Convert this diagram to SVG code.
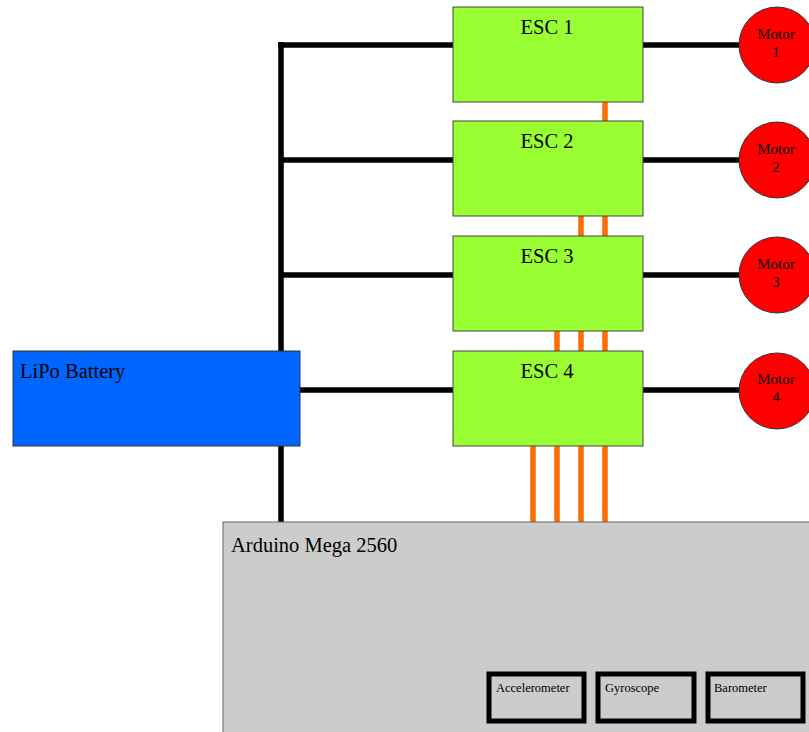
<svg xmlns="http://www.w3.org/2000/svg" width="809" height="732" viewBox="0 0 809 732">
<style>
.pw{stroke:#000;stroke-width:5.5;fill:none}
.sig{stroke:#ff6a00;stroke-width:5.5;fill:none}
.esc{fill:#99ff33;stroke:#444;stroke-width:1}
.motor{fill:#ff0000;stroke:#333;stroke-width:1}
.t{font-family:"Liberation Serif",serif;fill:#000}
.big{font-size:20.5px}
.mt{font-size:15px;text-anchor:middle}
.sens{fill:none;stroke:#000;stroke-width:5}
.st{font-size:12.5px}
</style>
<rect width="809" height="732" fill="#fff"/>
<g id="connectors">
<path class="pw" d="M281 42V522M278 45H453M281 160H453M281 275H453M281 390H453M300 390H453"/>
<path class="pw" d="M643 45H740M643 160H740M643 275H740M643 390H740"/>
<path class="sig" d="M605 102V522M581 216V522M557 331V522M533 446V522"/>
</g>
<g id="esc1"><rect class="esc" x="453" y="7" width="190" height="95"/><text class="t big" x="547" y="34" text-anchor="middle">ESC 1</text></g>
<g id="esc2"><rect class="esc" x="453" y="121" width="190" height="95"/><text class="t big" x="547" y="148" text-anchor="middle">ESC 2</text></g>
<g id="esc3"><rect class="esc" x="453" y="236" width="190" height="95"/><text class="t big" x="547" y="263" text-anchor="middle">ESC 3</text></g>
<g id="esc4"><rect class="esc" x="453" y="351" width="190" height="95"/><text class="t big" x="547" y="378" text-anchor="middle">ESC 4</text></g>
<g id="motor1"><circle class="motor" cx="777" cy="45" r="38"/><text class="t mt" x="776" y="39">Motor</text><text class="t mt" x="776" y="57">1</text></g>
<g id="motor2"><circle class="motor" cx="777" cy="160" r="38"/><text class="t mt" x="776" y="154">Motor</text><text class="t mt" x="776" y="172">2</text></g>
<g id="motor3"><circle class="motor" cx="777" cy="275" r="38"/><text class="t mt" x="776" y="269">Motor</text><text class="t mt" x="776" y="287">3</text></g>
<g id="motor4"><circle class="motor" cx="777" cy="391" r="38"/><text class="t mt" x="776" y="384">Motor</text><text class="t mt" x="776" y="402">4</text></g>
<g id="battery"><rect x="13" y="351" width="287" height="95" fill="#0066ff" stroke="#333" stroke-width="1"/><text class="t big" x="20" y="378">LiPo Battery</text></g>
<g id="arduino"><rect x="223" y="522" width="590" height="215" fill="#cccccc" stroke="#666" stroke-width="1"/><text class="t big" x="231" y="552">Arduino Mega 2560</text></g>
<g id="accelerometer"><rect class="sens" x="489" y="674" width="95" height="47"/><text class="t st" x="496" y="692">Accelerometer</text></g>
<g id="gyroscope"><rect class="sens" x="598" y="674" width="96" height="47"/><text class="t st" x="605" y="692">Gyroscope</text></g>
<g id="barometer"><rect class="sens" x="708" y="674" width="95" height="47"/><text class="t st" x="714" y="692">Barometer</text></g>
</svg>
